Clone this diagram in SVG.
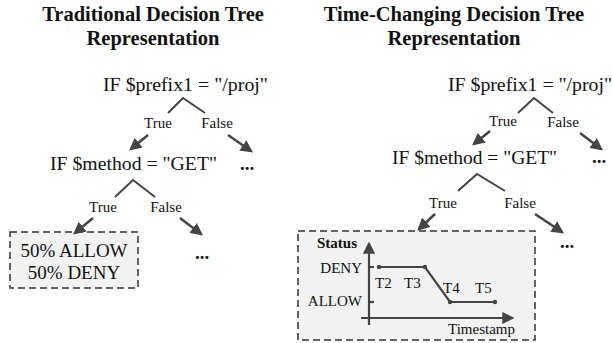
<svg xmlns="http://www.w3.org/2000/svg" width="613" height="343" viewBox="0 0 613 343" font-family="'Liberation Serif', 'DejaVu Serif', serif">
<style>
text{font-family:'Liberation Serif','DejaVu Serif',serif;fill:#111;}
.title{font-size:20.5px;font-weight:bold;text-anchor:middle;}
.cond{font-size:19.5px;}
.lbl{font-size:15px;text-anchor:middle;}
.leaf{font-size:19px;text-anchor:middle;}
.dots{font-size:19px;font-weight:bold;}
.small{font-size:15px;}
.caret{fill:none;stroke:#444;stroke-width:2;}
.arr{stroke:#444;stroke-width:2.5;fill:none;marker-end:url(#ah);}
.box{fill:#f2f2f2;stroke:#333;stroke-width:1.5;stroke-dasharray:7,4;}
.axis{stroke:#444;stroke-width:2.2;fill:none;}
.sig{stroke:#444;stroke-width:2.2;fill:none;}
</style>
<defs>
<marker id="ah" viewBox="0 0 10 10" refX="8" refY="5" markerWidth="5" markerHeight="5" orient="auto" markerUnits="strokeWidth">
<path d="M0,0 L10,5 L0,10 z" fill="#444"/>
</marker>
<marker id="ah2" viewBox="0 0 10 10" refX="8" refY="5" markerWidth="5.5" markerHeight="5.5" orient="auto" markerUnits="strokeWidth">
<path d="M0,0 L10,5 L0,10 z" fill="#444"/>
</marker>
</defs>

<g id="titles">
<text class="title" x="153" y="21">Traditional Decision Tree</text>
<text class="title" x="153" y="45">Representation</text>
<text class="title" x="454" y="21">Time-Changing Decision Tree</text>
<text class="title" x="454" y="45">Representation</text>
</g>

<g id="left-root"><text class="cond" x="103" y="91" textLength="165" lengthAdjust="spacingAndGlyphs">IF $prefix1 = "/proj"</text></g>
<g id="left-method"><text class="cond" x="50" y="170" textLength="167" lengthAdjust="spacingAndGlyphs">IF $method = "GET"</text></g>
<g id="left-dots1"><text class="dots" x="240" y="170">...</text></g>
<g id="left-leaf">
<rect class="box" x="10" y="232" width="128" height="56"/>
<text class="leaf" x="74" y="257">50% ALLOW</text>
<text class="leaf" x="74" y="279">50% DENY</text>
</g>
<g id="left-dots2"><text class="dots" x="195" y="259">...</text></g>

<g id="right-root"><text class="cond" x="448" y="91" textLength="164" lengthAdjust="spacingAndGlyphs">IF $prefix1 = "/proj"</text></g>
<g id="right-method"><text class="cond" x="392" y="164" textLength="165" lengthAdjust="spacingAndGlyphs">IF $method = "GET"</text></g>
<g id="right-dots1"><text class="dots" x="592" y="163">...</text></g>
<g id="right-dots2"><text class="dots" x="560" y="248">...</text></g>

<g id="right-leaf">
<rect class="box" x="298" y="231" width="237" height="109"/>
<line class="axis" x1="369" y1="325" x2="369" y2="244" marker-end="url(#ah2)"/>
<line class="axis" x1="361" y1="318" x2="512" y2="318" marker-end="url(#ah2)"/>
<line class="axis" x1="369" y1="267" x2="374" y2="267"/>
<line class="axis" x1="369" y1="302" x2="374" y2="302"/>
<polyline class="sig" points="379,267 425,267 450,302 495,302"/>
<circle cx="379" cy="267" r="2.2" fill="#444"/>
<circle cx="425" cy="267" r="2.2" fill="#444"/>
<circle cx="450" cy="302" r="2.2" fill="#444"/>
<circle cx="495" cy="302" r="2.2" fill="#444"/>
<text class="small" x="317" y="248" font-weight="bold" font-size="14">Status</text>
<text class="small" x="362" y="273" text-anchor="end">DENY</text>
<text class="small" x="362" y="306" text-anchor="end">ALLOW</text>
<text class="small" x="375" y="288">T2</text>
<text class="small" x="404" y="288">T3</text>
<text class="small" x="443" y="293">T4</text>
<text class="small" x="475" y="293">T5</text>
<text class="small" x="448" y="334">Timestamp</text>
</g>

<g id="connectors">
<polyline class="caret" points="168,113 183,98 205,113"/>
<text class="lbl" x="158" y="128">True</text>
<text class="lbl" x="217" y="128">False</text>
<line class="arr" x1="148" y1="135" x2="131" y2="149"/>
<line class="arr" x1="228" y1="135" x2="251" y2="151"/>

<polyline class="caret" points="115,197 133,180 155,197"/>
<text class="lbl" x="103" y="212">True</text>
<text class="lbl" x="166" y="212">False</text>
<line class="arr" x1="93" y1="218" x2="75" y2="233"/>
<line class="arr" x1="180" y1="218" x2="201" y2="234"/>

<polyline class="caret" points="518,113 534,98 553,113"/>
<text class="lbl" x="503" y="126">True</text>
<text class="lbl" x="563" y="127">False</text>
<line class="arr" x1="490" y1="131" x2="474" y2="144"/>
<line class="arr" x1="580" y1="133" x2="601" y2="149"/>

<polyline class="caret" points="458,191 477,174 505,191"/>
<text class="lbl" x="443" y="208">True</text>
<text class="lbl" x="520" y="208">False</text>
<line class="arr" x1="435" y1="214" x2="419" y2="229"/>
<line class="arr" x1="535" y1="214" x2="562" y2="232"/>
</g>
</svg>
